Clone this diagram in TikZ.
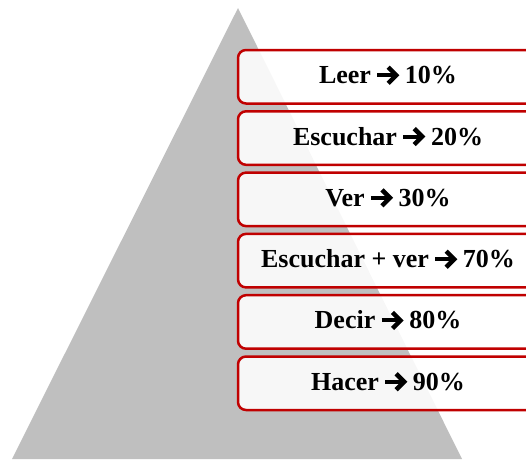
\documentclass[tikz,border=0pt]{standalone}
\usepackage{fontspec}
\setmainfont{Liberation Serif}
\usetikzlibrary{calc}
\definecolor{pyrgray}{HTML}{BFBFBF}
\definecolor{boxred}{HTML}{C00000}
\tikzset{
  stepbox/.style={draw=boxred, line width=2.5pt, fill=white, fill opacity=0.88,
    rounded corners=8pt, minimum width=300pt, minimum height=53.5pt, inner sep=0pt},
  lbl/.style={anchor=base, inner sep=0pt, text=black,
    font=\bfseries\fontsize{26}{30}\selectfont},
  arrowshaft/.style={line width=4pt, line cap=butt, black},
  arrowtip/.style={line width=4.5pt, line join=miter, line cap=butt, black},
}
% label with a heavy chevron arrow between two words
\newcommand\arrowlabel[4]{%
  \node[lbl] (#1) at (388,#2) {\phantom{#3\hspace{34pt}#4}};
  \node[lbl, anchor=base west] (#1-l) at (#1.base west) {#3};
  \node[lbl, anchor=base east] (#1-r) at (#1.base east) {#4};
  \coordinate (#1-s) at ($(#1-l.base east)+(6,-8.5)$);
  \coordinate (#1-t) at ($(#1-s)+(19,0)$);
  \draw[arrowshaft] (#1-s) -- ($(#1-t)+(-2,0)$);
  \draw[arrowtip] ($(#1-t)+(-8,-8)$) -- (#1-t) -- ($(#1-t)+(-8,8)$);
}
\begin{document}
\begin{tikzpicture}[x=1pt, y=-1pt]
  \useasboundingbox (0,0) rectangle (526,459);
  \clip (0,0) rectangle (526,459);
  % pyramid
  \fill[pyrgray] (238,8) -- (462,459) -- (12,459) -- cycle;
  % steps
  \foreach \i/\yc in {1/76.75, 2/138.05, 3/199.35, 4/260.65, 5/321.95, 6/383.25}
    \node[stepbox] (b\i) at (388,\yc) {};
  \arrowlabel{l1}{83.75}{Leer}{10\%}
  \arrowlabel{l2}{145.05}{Escuchar}{20\%}
  \arrowlabel{l3}{206.35}{Ver}{30\%}
  \arrowlabel{l4}{267.65}{Escuchar + ver}{70\%}
  \arrowlabel{l5}{328.95}{Decir}{80\%}
  \arrowlabel{l6}{390.25}{Hacer}{90\%}
\end{tikzpicture}
\end{document}
